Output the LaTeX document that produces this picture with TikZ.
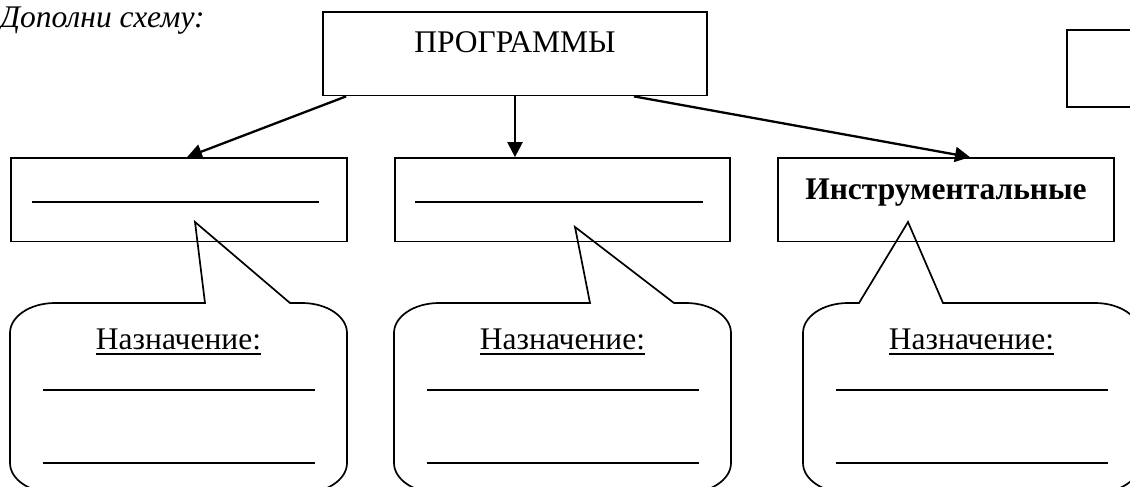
\documentclass[tikz,border=0pt]{standalone}
\usepackage{fontspec}
\setmainfont{Liberation Serif}
\usepackage{tikz}
\usetikzlibrary{arrows.meta,positioning}
\newcommand\undl[1]{\setbox0\hbox{#1}\rlap{\rule[-6pt]{\wd0}{1.6pt}}\box0}

\begin{document}
\begin{tikzpicture}[x=1pt, y=-1pt,
    every node/.style={font=\fontsize{31.5}{36}\selectfont},
    box/.style={draw, line width=1.7pt, inner xsep=0pt, inner ysep=0pt, text height=41pt, text depth=42.5pt, anchor=base},
    arr/.style={line width=2.3pt, -{Triangle[length=15pt, width=15pt]}},
    blank/.style={line width=1.6pt},
    bubble/.style={line width=1.7pt}
  ]
  \useasboundingbox (0,0) rectangle (1130,487);
  \clip (0,0) rectangle (1130,487);
  \node[anchor=base west, inner xsep=0pt, font=\fontsize{31.5}{36}\selectfont\itshape] (task) at (0,28) {Дополни схему:};
  \node[box, minimum width=384pt] (prog) at (515,53) {ПРОГРАММЫ};
  \node[draw, line width=1.7pt, minimum width=120pt, minimum height=77pt, anchor=north west] (side) at (1066,29) {};
  \node[box, minimum width=336pt] (b1) at (179,199) {};
  \node[box, minimum width=335pt] (b2) at (562.5,199) {};
  \node[box, minimum width=336pt] (b3) at (946,199) {\textbf{Инструментальные}};
  \draw[blank] ([xshift=-147pt, yshift=-3pt]b1.base) -- ++(287,0);
  \draw[blank] ([xshift=-147.5pt, yshift=-3pt]b2.base) -- ++(288,0);
  \draw[arr] ([xshift=24pt]prog.south west) -- ([xshift=8pt]b1.north);
  \draw[arr] (prog.south) -- (prog.south |- b2.north);
  \draw[arr] ([xshift=-74pt]prog.south east) -- ([xshift=24pt]b3.north);
  \foreach \l/\tx/\ty/\ba/\bb [count=\i] in {10/195/222/205/290, 394/575/227/590/674, 803/908/222/859/943}{
    \draw[bubble] (\l,333) arc[start angle=180, end angle=270, x radius=45, y radius=30]
      -- (\ba,303) -- (\tx,\ty) -- (\bb,303) -- ({\l+292},303)
      arc[start angle=270, end angle=360, x radius=45, y radius=30] -- ({\l+337},463)
      arc[start angle=0, end angle=90, x radius=45, y radius=30] -- ({\l+45},493)
      arc[start angle=90, end angle=180, x radius=45, y radius=30] -- cycle;
    \node[anchor=base] (n\i) at ({\l+168.5},349) {\undl{Назначение:}};
    \draw[blank] ([xshift=-136pt, yshift=-41pt]n\i.base) -- ++(272,0);
    \draw[blank] ([xshift=-136pt, yshift=-114pt]n\i.base) -- ++(272,0);
  }
\end{tikzpicture}
\end{document}
